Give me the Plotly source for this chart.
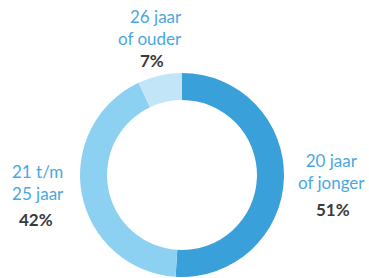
import plotly.graph_objects as go

categories = ["20 jaar<br>of jonger", "21 t/m<br>25 jaar", "26 jaar<br>of ouder"]
values = [51, 42, 7]
pct_labels = ["51%", "42%", "7%"]
colors = ["#3aa0da", "#8dd1f2", "#c2e5f8"]

W, H = 369, 278

fig = go.Figure(go.Pie(
    labels=categories, values=values, sort=False, direction="clockwise",
    rotation=0, hole=0.735, marker=dict(colors=colors, line=dict(width=0)),
    textinfo="none", hoverinfo="label+percent", showlegend=False,
    domain=dict(x=[80 / W, 284 / W], y=[1 - 277 / H, 1 - 73 / H]),
))

# label positions (pixel centers) and alignment
label_pos = [(331, 171), (38, 182), (150, 27)]
label_align = ["center", "center", "right"]
pct_pos = [(333, 209), (36, 219), (152, 60)]

anns = []
for cat, pct, (lx, ly), al, (px, py) in zip(categories, pct_labels, label_pos, label_align, pct_pos):
    anns.append(dict(x=lx / W, y=1 - ly / H, xref="paper", yref="paper", text=cat,
                     showarrow=False, xanchor="center", yanchor="middle", align=al,
                     font=dict(family="Lato", size=17, color="#4aa8de")))
    anns.append(dict(x=px / W, y=1 - py / H, xref="paper", yref="paper", text="<b>" + pct + "</b>",
                     showarrow=False, xanchor="center", yanchor="middle",
                     font=dict(family="Lato", size=17, color="#3a3a3a")))

fig.update_layout(width=W, height=H, margin=dict(l=0, r=0, t=0, b=0),
                  paper_bgcolor="white", plot_bgcolor="white", annotations=anns)
fig.write_html("out.html", config=dict(displayModeBar=False),
               post_script="document.body.style.margin='0';document.body.style.overflow='hidden';")
